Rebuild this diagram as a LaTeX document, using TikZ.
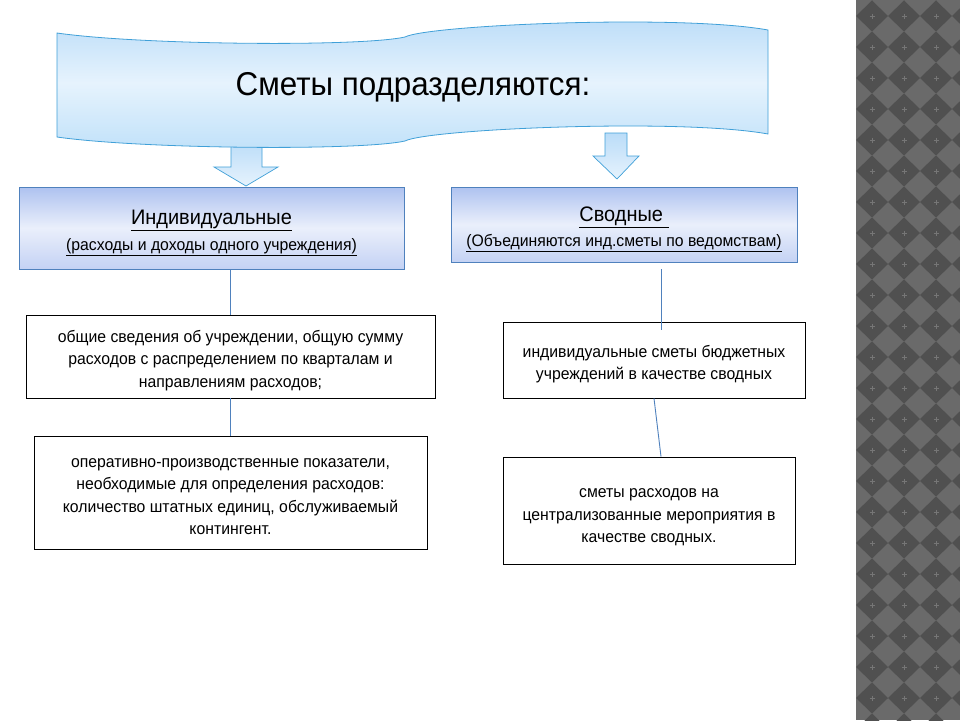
\documentclass[tikz,border=0pt]{standalone}
\usepackage{fontspec}
\setmainfont{Liberation Sans}[FakeStretch=0.95]
\usetikzlibrary{calc}
\definecolor{bnTop}{RGB}{186,220,248}
\definecolor{bnMid}{RGB}{230,243,253}
\definecolor{bnBot}{RGB}{192,225,249}
\definecolor{bnLine}{RGB}{64,160,216}
\definecolor{hdTop}{RGB}{174,194,240}
\definecolor{hdMid}{RGB}{234,239,251}
\definecolor{hdBot}{RGB}{196,210,244}
\definecolor{hdLine}{RGB}{79,129,189}
\definecolor{conn}{RGB}{79,129,189}
\definecolor{stripLight}{RGB}{106,106,106}
\definecolor{stripDark}{RGB}{80,80,80}
\definecolor{stripPlus}{RGB}{118,118,118}
\begin{document}
\begin{tikzpicture}[x=1pt,y=-1pt,
  hdbox/.style={draw=hdLine, line width=0.8pt, top color=hdTop, bottom color=hdBot, middle color=hdMid, inner sep=0pt},
  hdtext/.style={align=center, inner sep=0pt, yshift=-5pt},
  txtbox/.style={draw=black, line width=0.8pt, fill=white, inner sep=0pt},
  bodytext/.style={align=center, inner sep=0pt, font=\fontsize{16.6}{22.5}\selectfont, yshift=-4pt},
  connline/.style={draw=conn, line width=0.9pt},
  blockarrow/.style={draw=bnLine, line width=0.7pt, top color=bnTop, bottom color=bnMid}
]
\useasboundingbox (0,0) rectangle (960,720);
\fill[white] (0,0) rectangle (960,720);

% right patterned strip
\begin{scope}
\clip (856,0) rectangle (960,720);
\fill[stripLight] (856,0) rectangle (960,720);
\foreach \i in {0,...,3}
  \foreach \j in {-1,...,23} {
    \fill[stripDark] ({856+32*\i},{16+31*\j}) -- ++(16,-15.5) -- ++(16,15.5) -- ++(-16,15.5) -- cycle;
    \draw[stripPlus, line width=0.5pt] ({869.5+32*\i},{16+31*\j}) -- ++(5,0) ({872+32*\i},{13.5+31*\j}) -- ++(0,5);
  }
\end{scope}

% block arrows
\path[blockarrow] (231,140) -- (262,140) -- (262,167) -- (278,167) -- (246,186) -- (214,167) -- (231,167) -- cycle;
\path[blockarrow] (605,133) -- (627,133) -- (627,156) -- (639,156) -- (617,179) -- (593,156) -- (605,156) -- cycle;

% banner
\path[draw=bnLine, line width=0.8pt, top color=bnTop, bottom color=bnBot, middle color=bnMid]
  (57,33) .. controls (140,45) and (360,47) .. (405,37) .. controls (428,25) and (680,14) .. (768,30)
  -- (768,134) .. controls (680,118) and (428,129) .. (405,141) .. controls (360,151) and (140,149) .. (57,137) -- cycle;
\node (title) at (413,87) {\fontsize{33}{36}\selectfont Сметы подразделяются:};

% header boxes
\node[hdbox, minimum width=385pt, minimum height=82pt,
  label={[hdtext]center:{{\fontsize{21}{24}\selectfont\underline{Индивидуальные}}\\[6pt]
   {\fontsize{16.6}{18}\selectfont\underline{(расходы и доходы одного учреждения)}}}}] (L1) at (211.5,228) {};
\node[hdbox, minimum width=346pt, minimum height=75pt,
  label={[hdtext]center:{{\fontsize{21}{24}\selectfont\underline{Сводные\ }}\\[6pt]
   {\fontsize{16.6}{18}\selectfont\underline{(Объединяются инд.сметы по ведомствам)}}}}] (R1) at (624,224.5) {};

% text boxes
\node[txtbox, minimum width=409pt, minimum height=83pt,
  label={[bodytext]center:{общие сведения об учреждении, общую сумму\\расходов с распределением по кварталам и\\направлениям расходов;}}] (L2) at (230.5,356.5) {};
\node[txtbox, minimum width=393pt, minimum height=113pt,
  label={[bodytext]center:{оперативно-производственные показатели,\\необходимые для определения расходов:\\количество штатных единиц, обслуживаемый\\контингент.}}] (L3) at (230.5,492.5) {};
\node[txtbox, minimum width=302pt, minimum height=76pt,
  label={[bodytext]center:{индивидуальные сметы бюджетных\\учреждений в качестве сводных}}] (R2) at (654,360) {};
\node[txtbox, minimum width=292pt, minimum height=107pt,
  label={[bodytext, yshift=-3pt]center:{сметы расходов на\\централизованные мероприятия в\\качестве сводных.}}] (R3) at (649,510.5) {};

% connectors
\draw[connline] (L2.north |- L1.south) -- (L2.north);
\draw[connline] (L2.south) -- (L3.north);
\coordinate (ra) at (661,269);
\coordinate (rb) at (661,330);
\draw[connline] (ra) -- (rb);
\draw[connline] (R2.south) -- ($(R3.north)+(12,0)$);
\end{tikzpicture}
\end{document}
